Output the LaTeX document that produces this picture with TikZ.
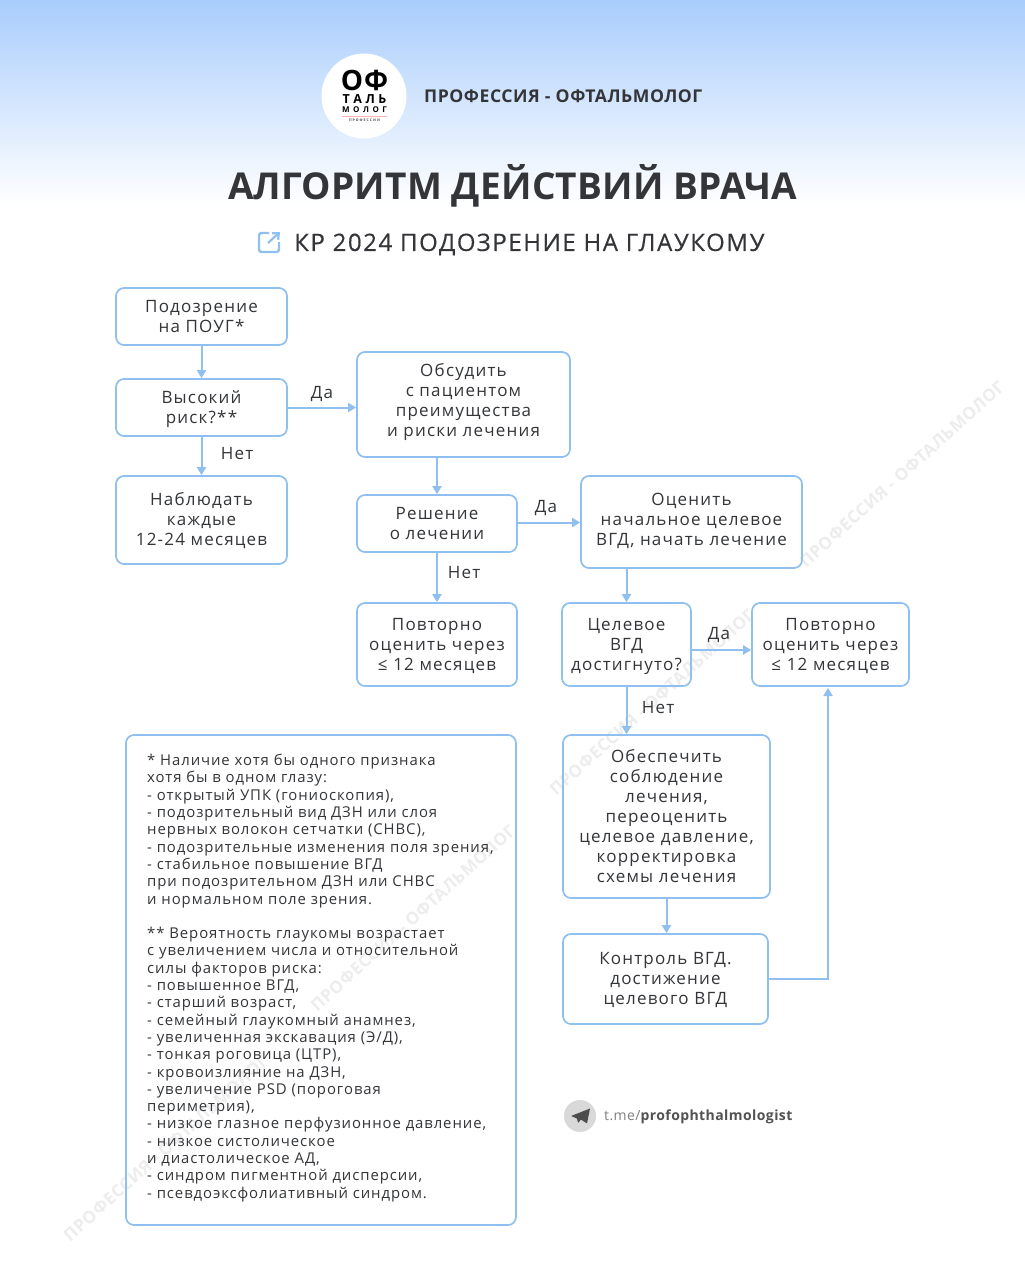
\documentclass[tikz,border=0pt]{standalone}
\usepackage{fontspec}
\setmainfont{Open Sans}
\newfontfamily\boxfont[LetterSpace=7]{Open Sans}
\newfontfamily\notefont[LetterSpace=6.2]{Open Sans}
\newfontfamily\headfont[LetterSpace=6.5,FakeBold=0.35]{Open Sans}
\newfontfamily\headbold[LetterSpace=3,BoldFont={Open Sans Bold}]{Open Sans}
\newfontfamily\titlefont[LetterSpace=0.6,BoldFont={Open Sans Bold}]{Open Sans}
\usetikzlibrary{arrows.meta,calc}
\definecolor{bord}{HTML}{8FC0F0}
\definecolor{ink}{HTML}{333538}
\definecolor{wm}{HTML}{EDEDED}
\definecolor{sky}{HTML}{A9CDFC}
\tikzset{
 x=1pt,y=-1pt,
 flowbox/.style={draw=bord,line width=1.7pt,rounded corners=8pt,inner sep=0pt},
 boxtext/.style={inner sep=0pt,align=center,text=ink,font=\boxfont\fontsize{17}{20}\selectfont},
 arr/.style={draw=bord,line width=2pt,-{Triangle[length=8pt,width=9pt]}},
 lab/.style={text=ink,inner sep=0pt,font=\boxfont\fontsize{17}{20}\selectfont},
 wmark/.style={text=wm,rotate=42,inner sep=0pt,font=\headbold\bfseries\fontsize{17}{18}\selectfont},
}
% name, text, x0, x1, y0, y1, text shift
\newcommand{\bx}[7]{\node[flowbox,minimum width=#4-#3,minimum height=#6-#5] (#1) at ({(#3+#4)/2},{(#5+#6)/2}) {};
\node[boxtext] (#1t) at ({(#3+#4)/2},{(#5+#6)/2+#7}) {#2};}
\begin{document}
\begin{tikzpicture}
\useasboundingbox (0,0) rectangle (1025,1280);
\fill[white] (0,0) rectangle (1025,1280);
\shade[top color=sky,bottom color=white] (0,0) rectangle (1025,205);
% watermarks
\node[wmark] (w1) at (902,474) {ПРОФЕССИЯ - ОФТАЛЬМОЛОГ};
\node[wmark] (w2) at (652,702) {ПРОФЕССИЯ - ОФТАЛЬМОЛОГ};
\node[wmark] (w3) at (413,918) {ПРОФЕССИЯ - ОФТАЛЬМОЛОГ};
\node[wmark] (w4) at (166,1148) {ПРОФЕССИЯ - ОФТАЛЬМОЛОГ};
% logo
\fill[white] (364,96) circle[radius=42.5];
\node[inner sep=0pt,text=black,font=\headbold\bfseries\fontsize{28}{28}\selectfont] (lg1) at (364.5,80) {ОФ};
\node[inner sep=0pt,text=black,font=\headbold\bfseries\fontsize{12.5}{13}\selectfont] (lg2) at (364.5,99) {Т\kern3.5ptА\kern3.5ptЛ\kern3.5ptЬ};
\node[inner sep=0pt,text=black,font=\headbold\bfseries\fontsize{8}{9}\selectfont] (lg3) at (364.5,110) {М\kern3.5ptО\kern3.5ptЛ\kern3.5ptО\kern3.5ptГ};
\draw[red!30,line width=.35pt] (342,116.5) -- (387,116.5);
\node[inner sep=0pt,text=black!70,font=\headbold\bfseries\fontsize{3.5}{4}\selectfont] (lg4) at (364.5,120.5) {П\kern1ptР\kern1ptО\kern1ptФ\kern1ptЕ\kern1ptС\kern1ptС\kern1ptИ\kern1ptИ};
\node[inner sep=0pt,anchor=west,text=ink,font=\headbold\bfseries\fontsize{17.6}{20}\selectfont] (brand) at (424,96) {ПРОФЕССИЯ - ОФТАЛЬМОЛОГ};
\node[inner sep=0pt,text=ink,font=\titlefont\bfseries\fontsize{37}{40}\selectfont] (title) at (512.5,186) {АЛГОРИТМ ДЕЙСТВИЙ ВРАЧА};
\node[inner sep=0pt,anchor=west,text=ink,font=\headfont\fontsize{24}{26}\selectfont] (sub) at (294,244.5) {КР 2024 ПОДОЗРЕНИЕ НА ГЛАУКОМУ};
% link icon
\draw[bord,line width=2.4pt,rounded corners=2.5pt] (269,233) -- (259,233) -- (259,252) -- (279,252) -- (279,242);
\draw[bord,line width=2.2pt,-{Straight Barb[length=5pt,width=9pt]}] (268,243) -- (280,232);
% boxes
\bx{a}{Подозрение\\на ПОУГ*}{116}{287}{288}{345}{0}
\bx{b}{Высокий\\риск?**}{116}{287}{379}{436}{2}
\bx{c}{Наблюдать\\каждые\\12-24 месяцев}{116}{287}{476}{564}{1}
\bx{d}{Обсудить\\с пациентом\\преимущества\\и риски лечения}{357}{570}{352}{457}{-2}
\bx{e}{Решение\\о лечении}{357}{517}{495}{552}{0}
\bx{f}{Оценить\\начальное целевое\\ВГД, начать лечение}{581}{802}{476}{568}{-1}
\bx{g}{Повторно\\оценить через\\≤ 12 месяцев}{357}{517}{603}{686}{1}
\bx{h}{Целевое\\ВГД\\достигнуто?}{562}{691}{603}{686}{1.5}
\bx{i}{Повторно\\оценить через\\≤ 12 месяцев}{752}{909}{603}{686}{1}
\bx{j}{Обеспечить\\соблюдение\\лечения,\\переоценить\\целевое давление,\\корректировка\\схемы лечения}{563}{770}{735}{898}{0}
\bx{k}{Контроль ВГД.\\достижение\\целевого ВГД}{563}{768}{934}{1024}{1}
\node[flowbox,minimum width=390,minimum height=490] (n) at (321,980) {};
\node[inner sep=0pt,anchor=north west,align=left,text=ink,font=\notefont\fontsize{14.9}{17.3}\selectfont] (notes) at (147,754) {%
* Наличие хотя бы одного признака\\
хотя бы в одном глазу:\\
- открытый УПК (гониоскопия),\\
- подозрительный вид ДЗН или слоя\\
нервных волокон сетчатки (СНВС),\\
- подозрительные изменения поля зрения,\\
- стабильное повышение ВГД\\
при подозрительном ДЗН или СНВС\\
и нормальном поле зрения.\\
\mbox{}\\
** Вероятность глаукомы возрастает\\
с увеличением числа и относительной\\
силы факторов риска:\\
- повышенное ВГД,\\
- старший возраст,\\
- семейный глаукомный анамнез,\\
- увеличенная экскавация (Э/Д),\\
- тонкая роговица (ЦТР),\\
- кровоизлияние на ДЗН,\\
- увеличение PSD (пороговая\\
периметрия),\\
- низкое глазное перфузионное давление,\\
- низкое систолическое\\
и диастолическое АД,\\
- синдром пигментной дисперсии,\\
- псевдоэксфолиативный синдром.};
% connectors
\coordinate (iB) at (828,688);
\draw[arr] (a) -- (b);
\draw[arr] (b) -- (c);
\draw[arr] (b.east) -- (b.east -| d.west);
\draw[arr] (e.north |- d.south) -- (e.north);
\draw[arr] ($(e.east)+(0,-1)$) -- ($(e.east -| f.west)+(0,-1)$);
\draw[arr] (e) -- (g);
\draw[arr] (h.north |- f.south) -- (h.north);
\draw[arr] ($(h.east)+(0,5.5)$) -- ($(h.east -| i.west)+(0,5.5)$);
\draw[arr] (h.south) -- (h.south |- j.north);
\draw[arr] (j.south) -- (j.south |- k.north);
\draw[arr] (k.east) -| (iB);
% edge labels
\node[lab] (l1) at (322,394.5) {Да};
\node[lab] (l2) at (237,453.5) {Нет};
\node[lab] (l3) at (546,508.5) {Да};
\node[lab] (l4) at (464,572.5) {Нет};
\node[lab] (l5) at (719,635.5) {Да};
\node[lab] (l6) at (658,707.5) {Нет};
% telegram
\fill[black!15] (580,1116) circle[radius=16];
\fill[black!70,rounded corners=.5pt] (571,1116) -- (590,1108.5) -- (587,1123.5) -- (581,1119.5) -- (578,1123) -- (577,1118.5) -- cycle;
\node[inner sep=0pt,anchor=west,font=\headbold\fontsize{14}{16}\selectfont] (tg) at (604,1117) {\textcolor{black!50}{t.me/}\textcolor{black!68}{\bfseries profophthalmologist}};
\end{tikzpicture}
\end{document}
